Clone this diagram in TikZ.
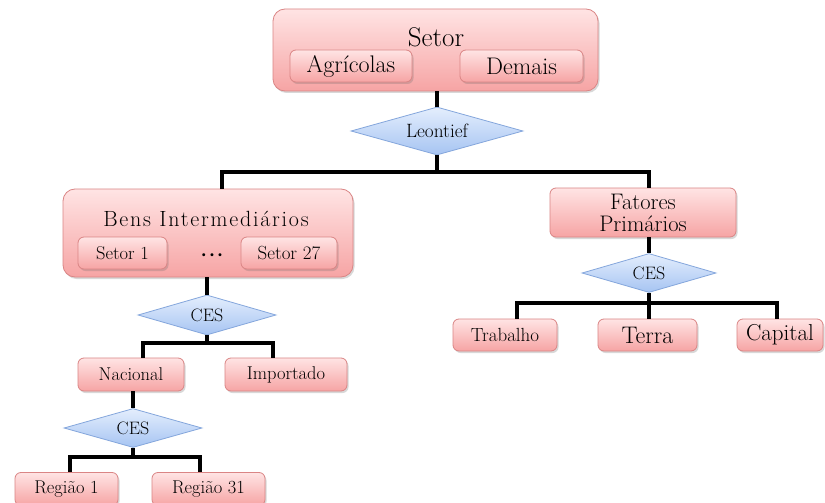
\documentclass[tikz,border=0pt]{standalone}
\usepackage{fontspec}
\usetikzlibrary{shapes.geometric,shadows}
\definecolor{pinkTop}{HTML}{FFE4E4}
\definecolor{pinkBot}{HTML}{F6A4A4}
\definecolor{pinkLine}{HTML}{DA8585}
\definecolor{blueTop}{HTML}{E4EEFD}
\definecolor{blueBot}{HTML}{A6C4F2}
\definecolor{blueLine}{HTML}{84A6DC}
\newcommand\fsSetor{\fontsize{27}{30}\selectfont}
\newcommand\fsLarge{\fontsize{24}{26}\selectfont}
\newcommand\fsSmall{\fontsize{18.5}{20}\selectfont}
\newfontface\widefont[LetterSpace=8]{Latin Modern Roman}
\begin{document}
\begin{tikzpicture}[x=1pt,y=-1pt,
  pinkbox/.style={rectangle,rounded corners=6pt,draw=pinkLine,line width=0.8pt,
    top color=pinkTop,bottom color=pinkBot,inner sep=0pt,
    drop shadow={shadow xshift=1.5pt,shadow yshift=-2pt,opacity=0.25,fill=black!60}},
  bigbox/.style={pinkbox,rounded corners=12pt},
  decbox/.style={diamond,draw=blueLine,line width=0.8pt,top color=blueTop,bottom color=blueBot,
    inner sep=0pt,aspect=3.5,font=\fontsize{18}{20}\selectfont},
  bar/.style={line width=3.6pt,black},
  ]
\useasboundingbox (0,0) rectangle (825,503);
\fill[white] (0,0) rectangle (825,503);

% ---- top: Setor
\node[bigbox,minimum width=325pt,minimum height=82pt] (setor) at (435.5,50) {};
\node[anchor=base,font=\fsSetor] (setorT) at (436,47) {Setor};
\node[pinkbox,minimum width=122pt,minimum height=32pt,font=\fsLarge] (agric) at (351,66) {Agrícolas};
\node[pinkbox,minimum width=123pt,minimum height=32pt,font=\fsLarge] (demais) at (521.5,66) {Demais};

\node[decbox,minimum width=172pt,minimum height=48pt,font=\fontsize{19.3}{20}\selectfont] (leon) at (437,131) {Leontief};

\coordinate (jL) at (222,172);
\coordinate (jM) at (437,172);
\coordinate (jR) at (649,172);

% ---- Bens Intermediarios
\node[bigbox,minimum width=290pt,minimum height=88pt] (bens) at (208,233) {};
\node[anchor=base,inner sep=0pt] (bensT) at (206,226) {\widefont\fontsize{22}{24}\selectfont Bens Intermediários};
\node[pinkbox,minimum width=89pt,minimum height=32pt,font=\fsSmall] (s1) at (122.5,253) {Setor 1};
\node[pinkbox,minimum width=96pt,minimum height=32pt,font=\fontsize{19}{20}\selectfont] (s27) at (289,253) {Setor 27};
\node[font=\fontsize{10}{10}\selectfont\bfseries,inner sep=0pt] (dots) at (212,255.5) {\textbullet\kern-0.8pt\textbullet\kern-0.8pt\textbullet};

\node[decbox,minimum width=138pt,minimum height=40pt] (ces2) at (207,315) {CES};
\coordinate (kL) at (143,343);
\coordinate (kM) at (207,343);
\coordinate (kR) at (273,343);
\node[pinkbox,minimum width=106pt,minimum height=33pt,font=\fsSmall] (nac) at (131,374.5) {Nacional};
\node[pinkbox,minimum width=122pt,minimum height=33pt,font=\fsSmall] (imp) at (286,374.5) {Importado};

\node[decbox,minimum width=138pt,minimum height=39pt] (ces3) at (133,428) {CES};
\coordinate (mL) at (70,457);
\coordinate (mM) at (133,457);
\coordinate (mR) at (200,457);
\node[pinkbox,minimum width=103pt,minimum height=33pt,font=\fsSmall] (reg1) at (66.5,489) {Região 1};
\node[pinkbox,minimum width=113pt,minimum height=33pt,font=\fsSmall] (reg31) at (208.5,489) {Região 31};

% ---- Fatores Primarios
\node[pinkbox,minimum width=186pt,minimum height=49pt,font=\fontsize{22.5}{22}\selectfont,align=center] (fat) at (643,212.5) {Fatores\\Primários};
\node[decbox,minimum width=134pt,minimum height=39pt] (ces1) at (649,273) {CES};
\coordinate (nL) at (517,303);
\coordinate (nM) at (649,303);
\coordinate (nR) at (777,303);
\node[pinkbox,minimum width=104pt,minimum height=32pt,font=\fontsize{19}{20}\selectfont] (trab) at (505,335) {Trabalho};
\node[pinkbox,minimum width=99pt,minimum height=32pt,font=\fsLarge] (terra) at (647.5,335) {Terra};
\node[pinkbox,minimum width=86pt,minimum height=32pt,font=\fontsize{23}{24}\selectfont] (cap) at (780,335) {Capital};

% ---- connectors
\draw[bar] (jM |- setor.south) -- (leon.north);
\draw[bar] (leon.south) -- (jM);
\draw[bar,line cap=rect] (jL) -- (jR);
\draw[bar] (jL) -- (jL |- bens.north);
\draw[bar] (jR) -- (jR |- fat.north);

\draw[bar] (kM |- bens.south) -- (ces2.north);
\draw[bar] (ces2.south) -- (kM);
\draw[bar,line cap=rect] (kL) -- (kR);
\draw[bar] (kL) -- (kL |- nac.north);
\draw[bar] (kR) -- (kR |- imp.north);

\draw[bar] (mM |- nac.south) -- (ces3.north);
\draw[bar] (ces3.south) -- (mM);
\draw[bar,line cap=rect] (mL) -- (mR);
\draw[bar] (mL) -- (mL |- reg1.north);
\draw[bar] (mR) -- (mR |- reg31.north);

\draw[bar] (nM |- fat.south) -- (ces1.north);
\draw[bar] (ces1.south) -- (nM);
\draw[bar,line cap=rect] (nL) -- (nR);
\draw[bar] (nL) -- (nL |- trab.north);
\draw[bar] (nM) -- (nM |- terra.north);
\draw[bar] (nR) -- (nR |- cap.north);
\end{tikzpicture}
\end{document}
